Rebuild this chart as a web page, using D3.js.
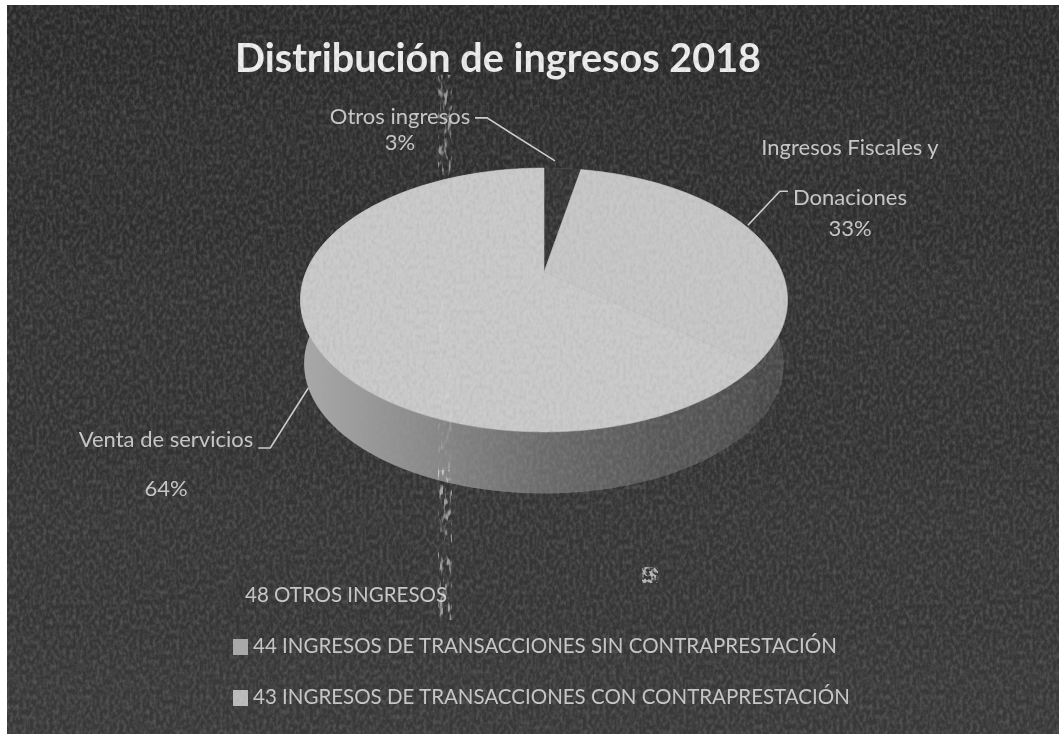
<!DOCTYPE html>
<html>
<head>
<meta charset="utf-8">
<script src="https://cdn.jsdelivr.net/npm/d3@7"></script>
<style>
  html, body { margin: 0; padding: 0; background: #fff; }
  svg { display: block; }
  text { font-family: Lato, "Open Sans", sans-serif; fill: #c9c9c9; }
</style>
</head>
<body>
<svg id="chart" width="1059" height="734"></svg>
<script>
// values
const slice_names = ["Otros ingresos", "Donaciones", "Venta de servicios"];
const slice_values = [3, 33, 64];
const top_colors = ["#303030", "#c8c8c8", "#cbcbcb"];
const legend_labels = [
    "48 OTROS INGRESOS",
    "44 INGRESOS DE TRANSACCIONES SIN CONTRAPRESTACIÓN",
    "43 INGRESOS DE TRANSACCIONES CON CONTRAPRESTACIÓN"
];
const legend_colors = ["#303030", "#a9a9a9", "#bdbdbd"];
const side_stops = ["#aaaaaa", "#8a8a8a", "#6a6a6a", "#565656", "#4b4b4b"];

const svg = d3.select("#chart");
const defs = svg.append("defs");

// background gets a bit lighter to the bottom
const bg = defs.append("linearGradient").attr("id", "bg")
    .attr("x1", 0).attr("y1", 0).attr("x2", 0).attr("y2", 1);
bg.append("stop").attr("offset", 0).attr("stop-color", "#2b2b2b");
bg.append("stop").attr("offset", 1).attr("stop-color", "#383838");

// side of the pie, light on the left, dark on the right
const side = defs.append("linearGradient").attr("id", "side")
    .attr("gradientUnits", "userSpaceOnUse")
    .attr("x1", 300).attr("y1", 0).attr("x2", 790).attr("y2", 0);
side.selectAll("stop").data(side_stops).join("stop")
    .attr("offset", (d, i) => i / (side_stops.length - 1))
    .attr("stop-color", d => d);

// scan grain
const grain = defs.append("filter").attr("id", "grain")
    .attr("x", 0).attr("y", 0).attr("width", 1).attr("height", 1);
grain.append("feTurbulence").attr("type", "fractalNoise")
    .attr("baseFrequency", "0.3 0.2").attr("numOctaves", 2).attr("seed", 4);
grain.append("feColorMatrix").attr("type", "matrix")
    .attr("values", "0 0 0 0 0.35  0 0 0 0 0.35  0 0 0 0 0.35  0.6 0 0 0 -0.22");
grain.append("feGaussianBlur").attr("stdDeviation", 0.6);

// specks for the vertical streak
const speck = defs.append("filter").attr("id", "speck")
    .attr("x", 0).attr("y", 0).attr("width", 1).attr("height", 1);
speck.append("feTurbulence").attr("type", "fractalNoise")
    .attr("baseFrequency", "0.25 0.09").attr("numOctaves", 2).attr("seed", 9);
speck.append("feColorMatrix").attr("type", "matrix")
    .attr("values", "0 0 0 0 0.8  0 0 0 0 0.8  0 0 0 0 0.8  5 0 0 0 -2.6");
speck.append("feGaussianBlur").attr("stdDeviation", 0.6);

const blob = defs.append("filter").attr("id", "blob")
    .attr("x", 0).attr("y", 0).attr("width", 1).attr("height", 1);
blob.append("feTurbulence").attr("type", "fractalNoise")
    .attr("baseFrequency", "0.3").attr("numOctaves", 2).attr("seed", 3);
blob.append("feColorMatrix").attr("type", "matrix")
    .attr("values", "0 0 0 0 0.8  0 0 0 0 0.8  0 0 0 0 0.8  5 0 0 0 -2.1");
blob.append("feGaussianBlur").attr("stdDeviation", 0.5);

const soft = defs.append("filter").attr("id", "soft");
soft.append("feGaussianBlur").attr("stdDeviation", 0.55);

const plate = svg.append("g").attr("filter", "url(#soft)");

plate.append("rect")
    .attr("x", 7).attr("y", 5).attr("width", 1052).attr("height", 729)
    .attr("fill", "url(#bg)");

// pie lying on its back: a perspective map of the unit disc
const cx = 544, cy = 272, a = 238, b = 126, persp = 0.212, depth = 64, shrink = 0.985;

function project(angle, radius, dy) {
    let u = Math.sin(angle), v = Math.cos(angle);
    let w = 1 + persp * v;
    return [cx + radius * a * u / w, cy + dy - radius * b * v / w];
}

let arcs = d3.pie().sort(null).value(d => d)(slice_values);

function arc_points(d, radius, dy) {
    let n = Math.max(2, Math.ceil((d.endAngle - d.startAngle) / 0.01));
    return d3.range(n + 1).map(i =>
        project(d.startAngle + (d.endAngle - d.startAngle) * i / n, radius, dy));
}

let line = d3.line().curve(d3.curveLinear);

// sides first, the top faces cover the part that should be hidden
plate.selectAll(".side").data(arcs).join("path")
    .attr("class", "side")
    .attr("fill", (d, i) => i == 1 ? "#4a4a4a" : "url(#side)")
    .attr("d", d => line(arc_points(d, 1, 0).concat(arc_points(d, shrink, depth).reverse())) + "Z");

// the thin stroke closes the seam between the two light slices
plate.selectAll(".top").data(arcs).join("path")
    .attr("class", "top")
    .attr("fill", (d, i) => top_colors[i])
    .attr("stroke", (d, i) => i == 0 ? "none" : top_colors[i])
    .attr("stroke-width", 0.6)
    .attr("d", d => line([[cx, cy]].concat(arc_points(d, 1, 0))) + "Z");

// leader lines start near the rim at the middle of each slice
const leader_steps = [
    { off: [-7.5, -7.5], elbow: [-68, -43], end: [-80, -43] },
    { off: [-5, -7], elbow: [32, -34], end: [40, -34] },
    { off: [1, 57], elbow: [-38, 60], end: [-50, 60] }
];
plate.selectAll(".leader").data(arcs).join("path")
    .attr("class", "leader")
    .attr("fill", "none")
    .attr("stroke", "#d0d0d0")
    .attr("stroke-width", 1.6)
    .attr("d", (d, i) => {
        let s = leader_steps[i];
        let p = project((d.startAngle + d.endAngle) / 2, 1, 0);
        let tip = [p[0] + s.off[0], p[1] + s.off[1]];
        return line([tip, [tip[0] + s.elbow[0], tip[1] + s.elbow[1]], [tip[0] + s.end[0], tip[1] + s.end[1]]]);
    });

// texts
plate.append("text")
    .attr("x", 498).attr("y", 72)
    .attr("text-anchor", "middle")
    .attr("font-size", 39.6).attr("font-weight", 700)
    .style("fill", "#efefef")
    .text("Distribución de ingresos 2018");

const slice_labels = [
    { lines: ["Otros ingresos", "3%"], x: [400, 400], y: [124, 150] },
    { lines: ["Ingresos Fiscales y", "Donaciones", "33%"], x: [850, 850, 850], y: [155, 205, 236] },
    { lines: ["Venta de servicios", "64%"], x: [166, 166], y: [447, 496] }
];
slice_labels.forEach(l => {
    l.lines.forEach((t, i) => {
        plate.append("text")
            .attr("x", l.x[i])
            .attr("y", l.y[i])
            .attr("text-anchor", "middle")
            .attr("font-size", 22)
            .text(t);
    });
});

// legend
const legend_y = d3.scalePoint().domain(legend_labels).range([602, 704]);
legend_labels.forEach((t, i) => {
    let y = legend_y(t);
    plate.append("rect")
        .attr("x", 233).attr("y", y - 14).attr("width", 15).attr("height", 16)
        .attr("fill", legend_colors[i]);
    plate.append("text")
        .attr("x", i == 0 ? 245 : 253).attr("y", y)
        .attr("font-size", 20.5)
        .text(t);
});

// grain over everything, then the streak of the scan
svg.append("rect").attr("x", 7).attr("y", 5).attr("width", 1052).attr("height", 729)
    .attr("filter", "url(#grain)");
const streaks = [[75, 100, 0.55], [300, 200, 0.2], [470, 150, 0.55]];
svg.selectAll(".streak").data(streaks).join("rect")
    .attr("class", "streak")
    .attr("x", 438).attr("y", d => d[0]).attr("width", 14).attr("height", d => d[1])
    .attr("opacity", d => d[2])
    .attr("filter", "url(#speck)");
svg.append("rect").attr("x", 642).attr("y", 567).attr("width", 16).attr("height", 16)
    .attr("opacity", 0.7)
    .attr("filter", "url(#blob)");
</script>
</body>
</html>
